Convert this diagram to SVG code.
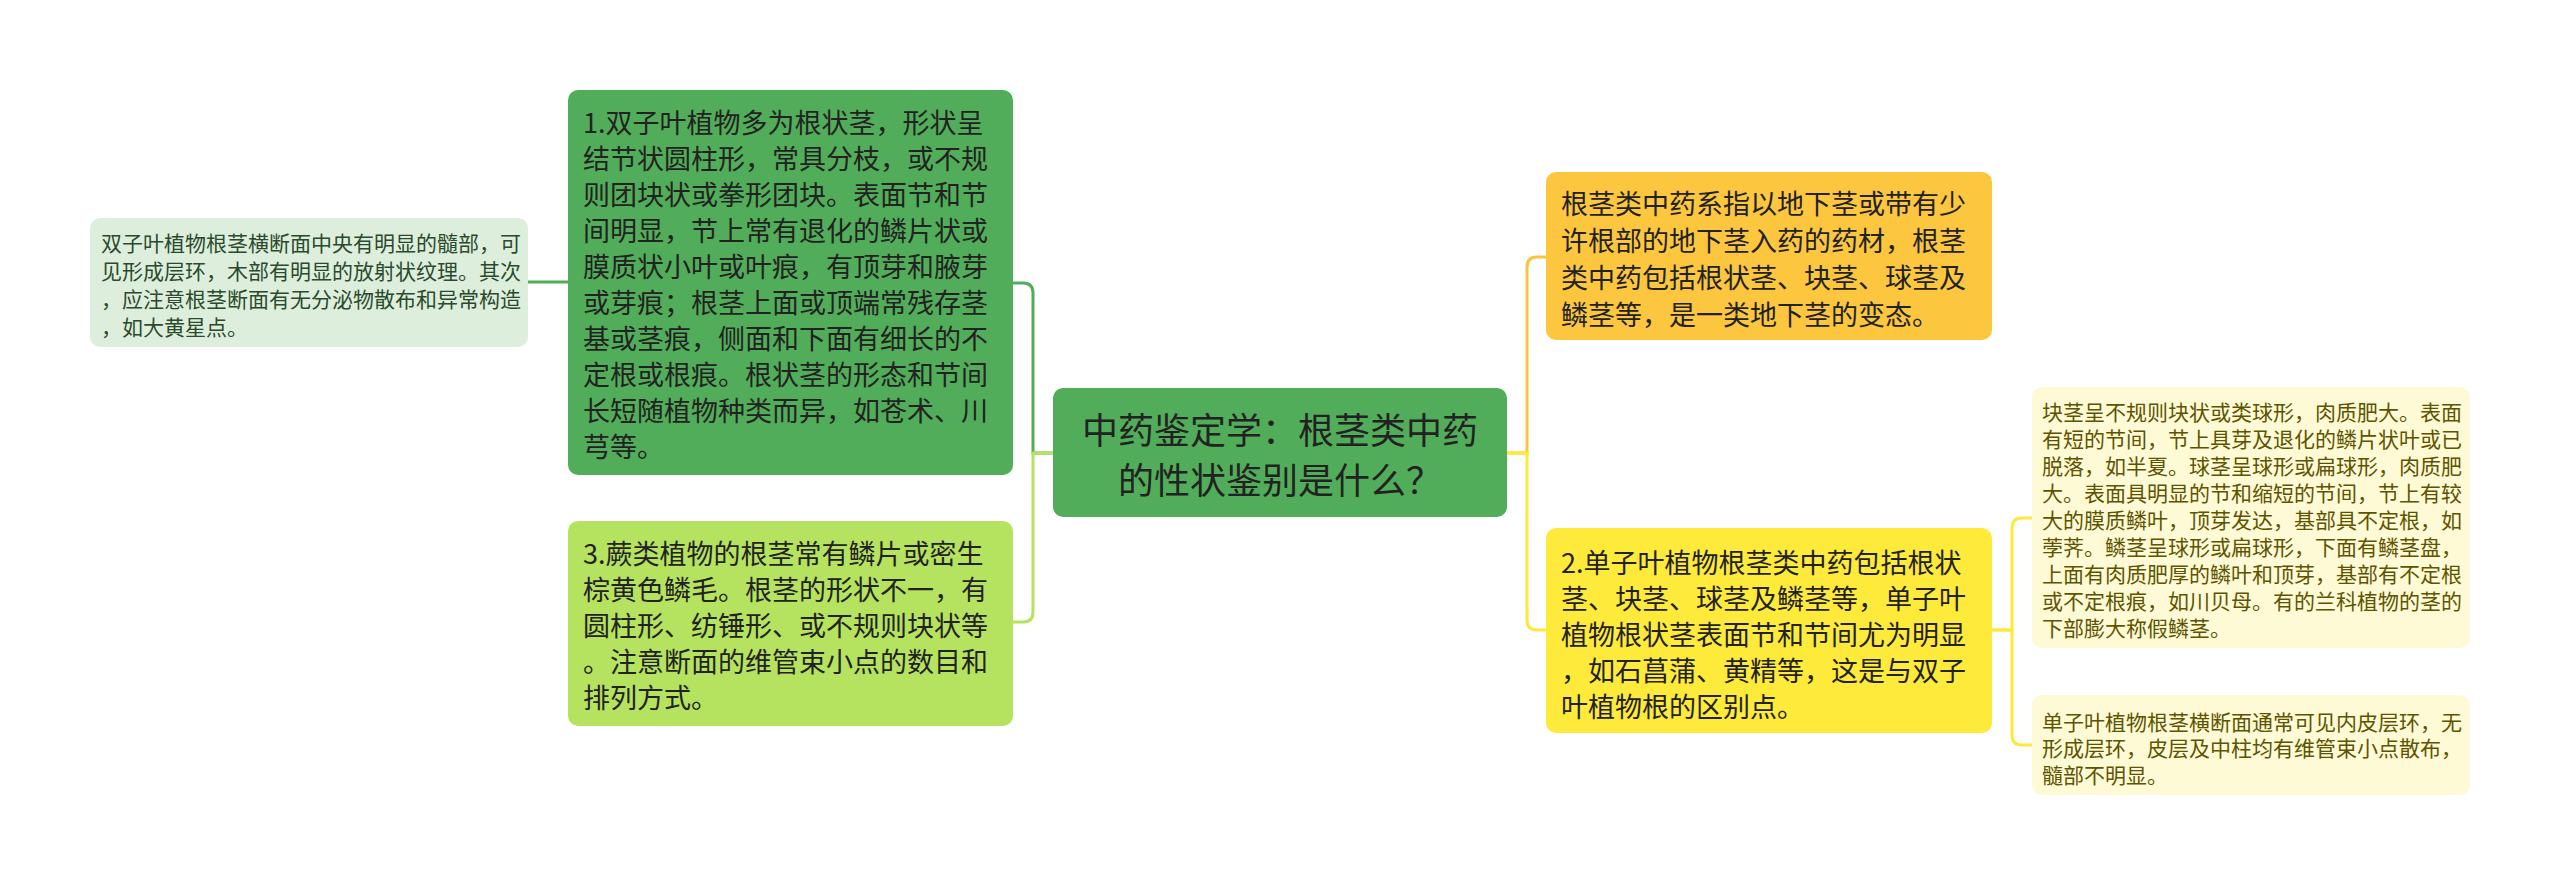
<svg xmlns="http://www.w3.org/2000/svg" width="2560" height="886" viewBox="0 0 2560 886">
<style>
text{font-family:"Noto Sans CJK SC","Noto Sans",sans-serif;}
.main{font-size:27px;fill:#222;}
.center{font-size:36px;fill:#222;text-anchor:middle;}
.leafL{font-size:21px;fill:#2b4a2d;}
.leafR{font-size:21px;fill:#5e5400;}
.c{fill:none;stroke-width:3;stroke-linecap:round;}
</style>
<rect width="2560" height="886" fill="#ffffff"/>
<g id="connectors">
<path class="c" stroke="#52ad5a" d="M568,282 H528"/>
<path class="c" stroke="#52ad5a" d="M1053,453 H1033 V293 Q1033,283 1023,283 H1013"/>
<path class="c" stroke="#b6e35f" d="M1053,453 H1033 V612 Q1033,622 1023,622 H1013"/>
<path class="c" stroke="#fbc43e" d="M1507,453 H1527 V267 Q1527,257 1537,257 H1546"/>
<path class="c" stroke="#fde93b" d="M1507,453 H1527 V620 Q1527,630 1537,630 H1546"/>
<path class="c" stroke="#fde93b" d="M1992,630 H2012 V528 Q2012,518 2022,518 H2032"/>
<path class="c" stroke="#fde93b" d="M1992,630 H2012 V735 Q2012,745 2022,745 H2032"/>
</g>
<g id="center">
<rect x="1053" y="388" width="454" height="129" rx="10" fill="#52ad5a"/>
<text class="center" x="1280" y="444">中药鉴定学：根茎类中药</text>
<text class="center" x="1280" y="494">的性状鉴别是什么？</text>
</g>
<g id="node1">
<rect x="568" y="90" width="445" height="385" rx="10" fill="#52ad5a"/>
<text class="main" x="583">
<tspan x="583" y="133">1.双子叶植物多为根状茎，形状呈</tspan>
<tspan x="583" y="169">结节状圆柱形，常具分枝，或不规</tspan>
<tspan x="583" y="205">则团块状或拳形团块。表面节和节</tspan>
<tspan x="583" y="241">间明显，节上常有退化的鳞片状或</tspan>
<tspan x="583" y="277">膜质状小叶或叶痕，有顶芽和腋芽</tspan>
<tspan x="583" y="313">或芽痕；根茎上面或顶端常残存茎</tspan>
<tspan x="583" y="349">基或茎痕，侧面和下面有细长的不</tspan>
<tspan x="583" y="385">定根或根痕。根状茎的形态和节间</tspan>
<tspan x="583" y="421">长短随植物种类而异，如苍术、川</tspan>
<tspan x="583" y="457">芎等。</tspan>
</text>
</g>
<g id="leafL">
<rect x="90" y="218" width="438" height="129" rx="10" fill="#ddefdc"/>
<text class="leafL">
<tspan x="101" y="251">双子叶植物根茎横断面中央有明显的髓部，可</tspan>
<tspan x="101" y="279">见形成层环，木部有明显的放射状纹理。其次</tspan>
<tspan x="101" y="307">，应注意根茎断面有无分泌物散布和异常构造</tspan>
<tspan x="101" y="335">，如大黄星点。</tspan>
</text>
</g>
<g id="node3">
<rect x="568" y="521" width="445" height="205" rx="10" fill="#b6e35f"/>
<text class="main">
<tspan x="583" y="564">3.蕨类植物的根茎常有鳞片或密生</tspan>
<tspan x="583" y="600">棕黄色鳞毛。根茎的形状不一，有</tspan>
<tspan x="583" y="636">圆柱形、纺锤形、或不规则块状等</tspan>
<tspan x="583" y="672">。注意断面的维管束小点的数目和</tspan>
<tspan x="583" y="708">排列方式。</tspan>
</text>
</g>
<g id="nodeTR">
<rect x="1546" y="172" width="446" height="168" rx="10" fill="#fcc63f"/>
<text class="main">
<tspan x="1561" y="214">根茎类中药系指以地下茎或带有少</tspan>
<tspan x="1561" y="251">许根部的地下茎入药的药材，根茎</tspan>
<tspan x="1561" y="288">类中药包括根状茎、块茎、球茎及</tspan>
<tspan x="1561" y="325">鳞茎等，是一类地下茎的变态。</tspan>
</text>
</g>
<g id="node2">
<rect x="1546" y="528" width="446" height="205" rx="10" fill="#feea3b"/>
<text class="main">
<tspan x="1561" y="573">2.单子叶植物根茎类中药包括根状</tspan>
<tspan x="1561" y="609">茎、块茎、球茎及鳞茎等，单子叶</tspan>
<tspan x="1561" y="645">植物根状茎表面节和节间尤为明显</tspan>
<tspan x="1561" y="681">，如石菖蒲、黄精等，这是与双子</tspan>
<tspan x="1561" y="717">叶植物根的区别点。</tspan>
</text>
</g>
<g id="leafR1">
<rect x="2032" y="387" width="438" height="261" rx="10" fill="#fefad6"/>
<text class="leafR">
<tspan x="2042" y="420">块茎呈不规则块状或类球形，肉质肥大。表面</tspan>
<tspan x="2042" y="447">有短的节间，节上具芽及退化的鳞片状叶或已</tspan>
<tspan x="2042" y="474">脱落，如半夏。球茎呈球形或扁球形，肉质肥</tspan>
<tspan x="2042" y="501">大。表面具明显的节和缩短的节间，节上有较</tspan>
<tspan x="2042" y="528">大的膜质鳞叶，顶芽发达，基部具不定根，如</tspan>
<tspan x="2042" y="555">荸荠。鳞茎呈球形或扁球形，下面有鳞茎盘，</tspan>
<tspan x="2042" y="582">上面有肉质肥厚的鳞叶和顶芽，基部有不定根</tspan>
<tspan x="2042" y="609">或不定根痕，如川贝母。有的兰科植物的茎的</tspan>
<tspan x="2042" y="636">下部膨大称假鳞茎。</tspan>
</text>
</g>
<g id="leafR2">
<rect x="2032" y="695" width="438" height="100" rx="10" fill="#fefad6"/>
<text class="leafR">
<tspan x="2042" y="730">单子叶植物根茎横断面通常可见内皮层环，无</tspan>
<tspan x="2042" y="756">形成层环，皮层及中柱均有维管束小点散布，</tspan>
<tspan x="2042" y="783">髓部不明显。</tspan>
</text>
</g>
</svg>
